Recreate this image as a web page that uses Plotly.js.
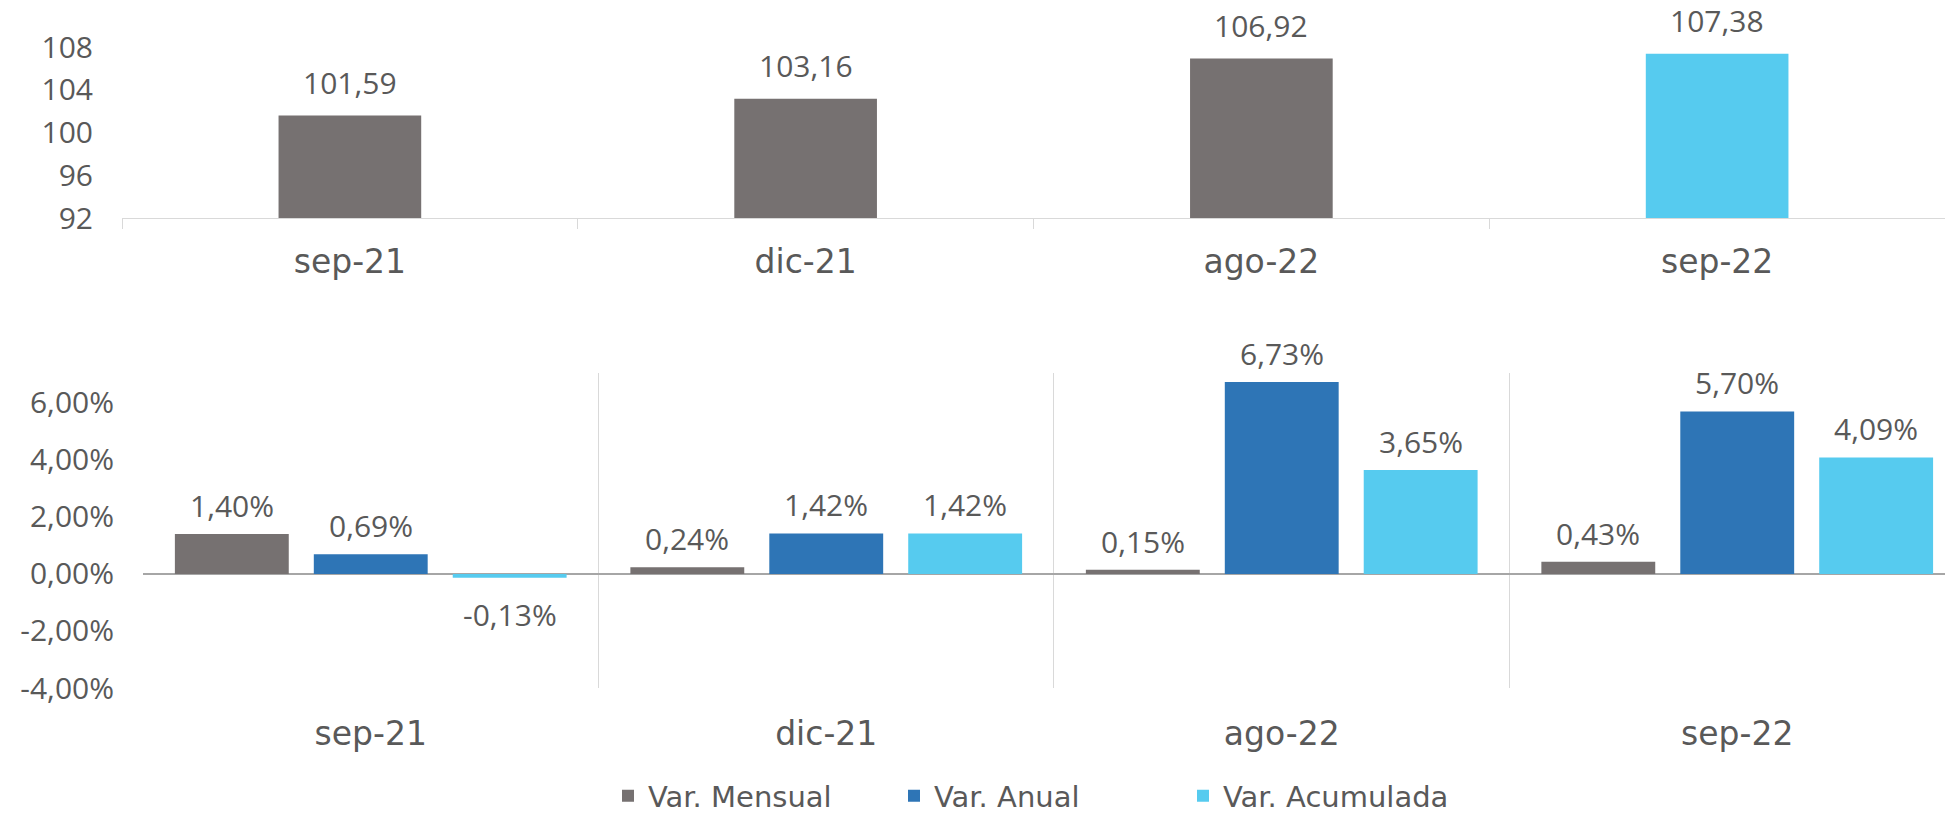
<!DOCTYPE html>
<html>
<head>
<meta charset="utf-8">
<script src="https://cdn.plot.ly/plotly-3.0.1.min.js"></script>
<style>html,body{margin:0;padding:0;background:#fff;}#chart{width:1945px;height:815px;}</style>
</head>
<body>
<div id="chart"></div>
<script>
// ---- data ----
const categories = ["sep-21", "dic-21", "ago-22", "sep-22"];
const indexValues = [101.59, 103.16, 106.92, 107.38];
const indexColors = ["#767171", "#767171", "#767171", "#56CBEF"];
const varMensual = [1.40, 0.24, 0.15, 0.43];
const varAnual = [0.69, 1.42, 6.73, 5.70];
const varAcumulada = [-0.13, 1.42, 3.65, 4.09];
const seriesNames = ["Var. Mensual", "Var. Anual", "Var. Acumulada"];
const seriesColors = ["#767171", "#2E75B6", "#56CBEF"];
const topTicks = [92, 96, 100, 104, 108];
const bottomTicks = [-4, -2, 0, 2, 4, 6];

const FONT = "DejaVu Sans";
const NUMFONT = "Open Sans";
const TXT = "#595959";
const fmt = (v, d) => v.toFixed(d).replace('.', ',');

const traces = [];
traces.push({
  type: 'bar', x: categories, y: indexValues, xaxis: 'x', yaxis: 'y',
  marker: {color: indexColors}, width: 0.313, showlegend: false, hoverinfo: 'none'
});
const seriesData = [varMensual, varAnual, varAcumulada];
const offsets = [-0.43, -0.125, 0.18];
const bw = 0.25;
const legendIds = ['legend', 'legend2', 'legend3'];
seriesData.forEach((s, k) => {
  traces.push({
    type: 'bar', name: seriesNames[k], x: categories, y: s, xaxis: 'x2', yaxis: 'y2',
    marker: {color: seriesColors[k]}, offset: offsets[k], width: bw, hoverinfo: 'none',
    legend: legendIds[k]
  });
});

const annotations = [];
indexValues.forEach((v, i) => {
  annotations.push({x: i, y: v, xref: 'x', yref: 'y', text: fmt(v, 2), showarrow: false,
    yanchor: 'bottom', yshift: 11, font: {family: NUMFONT, size: 30, color: TXT}});
});
seriesData.forEach((s, k) => {
  s.forEach((v, i) => {
    annotations.push({x: i + offsets[k] + bw / 2, y: v, xref: 'x2', yref: 'y2',
      text: fmt(v, 2) + '%', showarrow: false,
      yanchor: v >= 0 ? 'bottom' : 'top', yshift: v >= 0 ? 6 : -14,
      font: {family: NUMFONT, size: 30, color: TXT}});
  });
});

const legendBase = {
  orientation: 'h', xanchor: 'left', y: 1 - 796 / 815, yanchor: 'middle',
  font: {family: FONT, size: 29, color: TXT}, bgcolor: 'rgba(0,0,0,0)',
  itemclick: false, itemdoubleclick: false
};
const legendX = [608, 894, 1183];

const layout = {
  width: 1945, height: 815,
  margin: {l: 0, r: 0, t: 0, b: 0, autoexpand: false},
  paper_bgcolor: '#fff', plot_bgcolor: 'rgba(0,0,0,0)',
  font: {family: FONT, color: TXT, size: 28},
  barmode: 'overlay',
  showlegend: true,
  xaxis: {
    domain: [122 / 1945, 1], anchor: 'y', type: 'category', range: [-0.5, 3.5],
    showgrid: false, zeroline: false, showline: true, linecolor: '#d9d9d9', linewidth: 1,
    ticks: 'outside', tickson: 'boundaries', ticklen: 10, tickcolor: '#d9d9d9',
    tickfont: {family: FONT, size: 33, color: TXT}, automargin: false, ticklabelstandoff: 14
  },
  yaxis: {
    domain: [1 - 218 / 815, 1 - 47 / 815], anchor: 'x', range: [92, 108],
    tickvals: topTicks, ticktext: topTicks.map(String),
    showgrid: false, zeroline: false, showline: false, ticks: '',
    tickfont: {family: NUMFONT, size: 30, color: TXT}, automargin: false, ticklabelstandoff: 28
  },
  xaxis2: {
    domain: [143 / 1945, 1], anchor: 'y2', type: 'category', range: [-0.5, 3.5 - 20 / 456],
    showgrid: true, gridcolor: '#d9d9d9', gridwidth: 1, tickson: 'boundaries', ticks: '',
    zeroline: false, showline: false,
    tickfont: {family: FONT, size: 33, color: TXT}, automargin: false, ticklabelstandoff: 23
  },
  yaxis2: {
    domain: [1 - 688 / 815, 1 - 373 / 815], anchor: 'x2', range: [-4, 7.05],
    tickvals: bottomTicks, ticktext: bottomTicks.map(v => fmt(v, 2) + '%'),
    showgrid: false, zeroline: true, zerolinecolor: '#a6a6a6', zerolinewidth: 2,
    showline: false, ticks: '',
    tickfont: {family: NUMFONT, size: 30, color: TXT}, automargin: false, ticklabelstandoff: 28
  },
  legend: Object.assign({}, legendBase, {x: legendX[0] / 1945}),
  legend2: Object.assign({}, legendBase, {x: legendX[1] / 1945}),
  legend3: Object.assign({}, legendBase, {x: legendX[2] / 1945}),
  annotations: annotations
};

Plotly.newPlot('chart', traces, layout, {staticPlot: true, displayModeBar: false});
</script>
</body>
</html>
